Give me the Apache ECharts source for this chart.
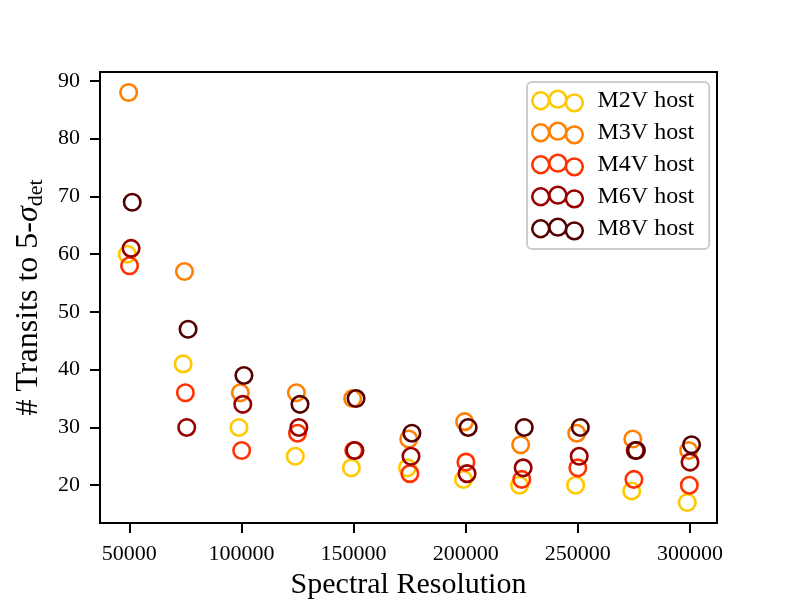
<!DOCTYPE html>
<html>
<head>
<meta charset="utf-8">
<script src="https://cdn.jsdelivr.net/npm/echarts@6/dist/echarts.min.js"></script>
<style>html,body{margin:0;padding:0;background:#fff}#c{width:800px;height:600px}</style>
</head>
<body>
<div id="c"></div>
<script>
// ---- data ----
const seriesNames = ['M2V host', 'M3V host', 'M4V host', 'M6V host', 'M8V host'];
const xTicks = [50000, 100000, 150000, 200000, 250000, 300000];
const yTicks = [20, 30, 40, 50, 60, 70, 80, 90];

// spectral resolution of each point (slightly offset per host in the original plot)
const xM2V = [49100, 74000, 98900, 124000, 149000, 174000, 199000, 224000, 249000, 274000, 298800];
const xM3V = [49700, 74600, 99500, 124500, 149600, 174600, 199500, 224500, 249500, 274500, 299400];
const xM4V = [50100, 75000, 100100, 125000, 150100, 175100, 200100, 225000, 250000, 275000, 299700];
const xM6V = [50800, 75600, 100600, 125600, 150600, 175600, 200600, 225600, 250600, 275600, 300000];
const xM8V = [51300, 76200, 101100, 126100, 151100, 176000, 201100, 226100, 251100, 276100, 300700];

// number of transits to 5-sigma detection
const yM2V = [60, 41, 30, 25, 23, 23, 21, 20, 20, 19, 17];
const yM3V = [88, 57, 36, 36, 35, 28, 31, 27, 29, 28, 26];
const yM4V = [58, 36, 26, 29, 26, 22, 24, 21, 23, 21, 20];
const yM6V = [61, 30, 34, 30, 26, 25, 22, 23, 25, 26, 24];
const yM8V = [69, 47, 39, 34, 35, 29, 30, 30, 30, 26, 27];

const colors = ['#ffc800', '#ff7f00', '#ff3300', '#990000', '#550000'];
const xs = [xM2V, xM3V, xM4V, xM6V, xM8V];
const ys = [yM2V, yM3V, yM4V, yM6V, yM8V];

// legend icon: three open rings (nonzero fill with reversed inner circles)
function ring(cx, cy, R, r) {
  return 'M' + (cx + R) + ' ' + cy + ' A' + R + ' ' + R + ' 0 1 1 ' + (cx - R) + ' ' + cy +
         ' A' + R + ' ' + R + ' 0 1 1 ' + (cx + R) + ' ' + cy + ' Z ' +
         'M' + (cx + r) + ' ' + cy + ' A' + r + ' ' + r + ' 0 1 0 ' + (cx - r) + ' ' + cy +
         ' A' + r + ' ' + r + ' 0 1 0 ' + (cx + r) + ' ' + cy + ' Z ';
}
const R = 8.8, r = 6.5;
const iconPath = 'path://' + ring(R, 10.2, R, r) + ring(R + 15.6, R, R, r) + ring(R + 30.6, 12.1, R, r);

const font = 'Liberation Serif, DejaVu Serif, serif';

const chart = echarts.init(document.getElementById('c'), null, {renderer: 'canvas'});
chart.setOption({
  animation: false,
  backgroundColor: '#ffffff',
  grid: {left: 100, right: 83, top: 72, bottom: 77, show: true, borderColor: '#000', borderWidth: 2,
         containLabel: false, outerBoundsMode: 'none'},
  legend: {
    orient: 'vertical',
    left: 527, top: 82,
    padding: [7, 15, 8, 4],
    itemGap: 8,
    itemWidth: 54, itemHeight: 23,
    backgroundColor: 'rgba(255,255,255,0.8)',
    borderColor: '#cccccc', borderWidth: 2, borderRadius: 5,
    textStyle: {fontFamily: font, fontSize: 24, lineHeight: 23, color: '#000', padding: [0, 0, 0, 8]},
    data: seriesNames.map((n, i) => ({name: n, icon: iconPath, itemStyle: {color: colors[i], borderWidth: 0}}))
  },
  xAxis: {
    type: 'value', min: 36930, max: 312040,
    name: 'Spectral Resolution', nameLocation: 'middle', nameGap: 42,
    nameTextStyle: {fontFamily: font, fontSize: 30, color: '#000'},
    axisLine: {show: true, lineStyle: {color: '#000', width: 2}},
    axisTick: {show: true, length: 10, lineStyle: {color: '#000', width: 2}, customValues: xTicks},
    axisLabel: {margin: 20, fontFamily: font, fontSize: 22, color: '#000', customValues: xTicks, formatter: v => String(v)},
    splitLine: {show: false}
  },
  yAxis: {
    type: 'value', min: 13.45, max: 91.55,
    name: '{n|# Transits to 5-}{s|σ}{d|det}', nameLocation: 'middle', nameGap: 46, nameRotate: 90,
    nameTextStyle: {
      fontFamily: font, fontSize: 32, color: '#000',
      rich: {
        n: {fontFamily: font, fontSize: 32, color: '#000', lineHeight: 36},
        s: {fontFamily: font, fontSize: 32, fontStyle: 'italic', color: '#000', lineHeight: 36},
        d: {fontFamily: font, fontSize: 22, color: '#000', lineHeight: 23, padding: [15, 0, 0, 0]}
      }
    },
    axisLine: {show: true, lineStyle: {color: '#000', width: 2}},
    axisTick: {show: true, length: 10, lineStyle: {color: '#000', width: 2}, customValues: yTicks},
    axisLabel: {margin: 20, fontFamily: font, fontSize: 22, color: '#000', customValues: yTicks},
    splitLine: {show: false}
  },
  series: seriesNames.map((n, i) => ({
    name: n,
    type: 'scatter',
    symbol: 'circle',
    symbolSize: 16.5,
    itemStyle: {color: 'rgba(255,255,255,0)', borderColor: colors[i], borderWidth: 2.6, opacity: 1},
    emphasis: {disabled: true},
    data: xs[i].map((x, j) => [x, ys[i][j]])
  }))
});
</script>
</body>
</html>
